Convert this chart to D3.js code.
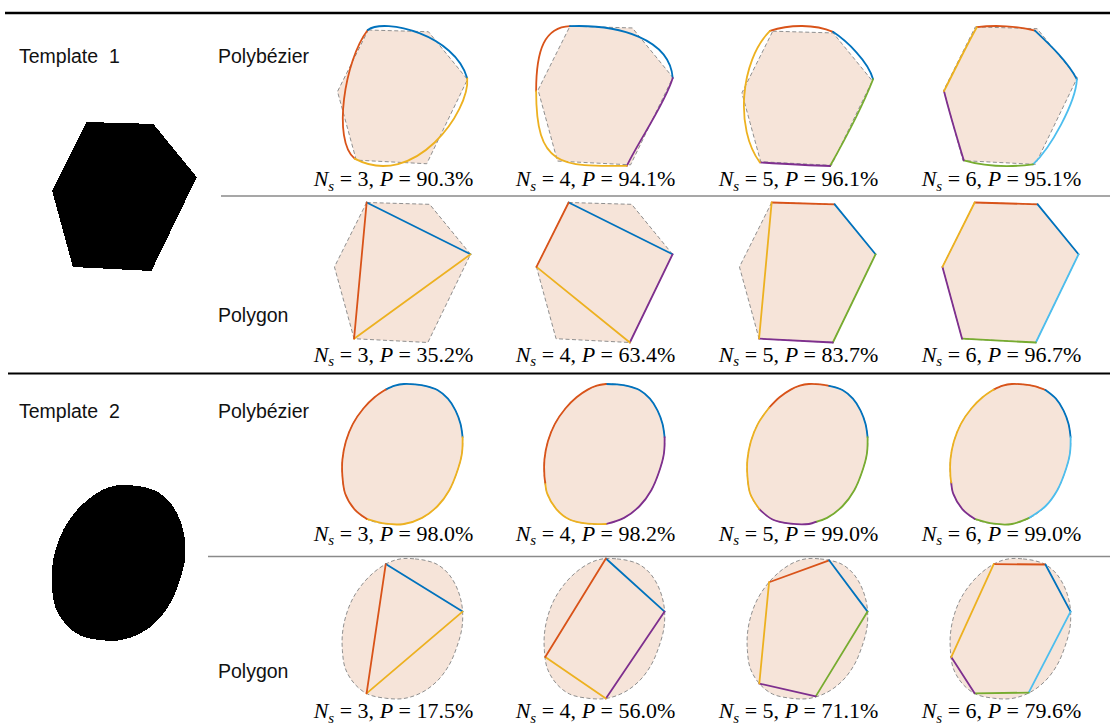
<!DOCTYPE html>
<html>
<head>
<meta charset="utf-8">
<script src="https://cdn.jsdelivr.net/npm/d3@7"></script>
<style>
  html, body { margin: 0; padding: 0; background: #fff; }
  svg { display: block; }
</style>
</head>
<body>
<svg id="fig" width="1110" height="727"></svg>
<script>
// ---------------------------------------------------------------
// Shape outlines (units: shape height = 100, equal aspect)
// ---------------------------------------------------------------
const template1 = [[23,0],[68,1.3],[97.2,37],[66.7,100],[14,97.3],[0,46]];
const template2 = [[44,0],[52,0.3],[60,1.5],[68,4.3],[75.5,10.5],[81,19],[84.5,28.5],[86,38],
  [85.5,50],[82,63],[76.5,76],[68,87.5],[57,95.8],[44,100.2],[31,100],[18,97],[8.5,89.5],
  [2,78.5],[0,66],[0,54],[2.5,41],[7.5,28.5],[15,17.5],[23,9.5],[31,4],[37.5,1.2]];

// Segment counts and reported precision values
const segmentCounts = [3, 4, 5, 6];
const pT1Bezier  = [90.3, 94.1, 96.1, 95.1];
const pT1Polygon = [35.2, 63.4, 83.7, 96.7];
const pT2Bezier  = [98.0, 98.2, 99.0, 99.0];
const pT2Polygon = [17.5, 56.0, 71.1, 79.6];

const segColors = {
  blue: "#0072BD", red: "#D95319", yellow: "#EDB120",
  purple: "#7E2F8E", green: "#77AC30", cyan: "#4DBEEE"
};

// Template 1, polybézier fits: cubic segments [P0, P1, P2, P3]
const t1BezierFits = [
  [ {c:"red",    p:[[22.6,0],[5.3,22.6],[-4,82.7],[12.8,96.2]]},
    {c:"blue",   p:[[22.6,0],[35.3,-9.5],[88,3.8],[97,36.1]]},
    {c:"yellow", p:[[97,36.1],[99.2,60.2],[57.9,120],[12.8,96.2]]} ],
  [ {c:"red",    p:[[23,0],[5,0.7],[-1.4,16.5],[-1.4,46.8]]},
    {c:"blue",   p:[[23,0],[59,-1.4],[95,9.4],[97.1,37.4]]},
    {c:"purple", p:[[97.1,37.4],[91.4,56.1],[73.4,81.3],[64,100.7]]},
    {c:"yellow", p:[[64,100.7],[15.8,101.4],[-1.4,101.4],[-1.4,46.8]]} ],
  [ {c:"red",    p:[[20.9,-0.2],[35.8,-5.2],[54.5,-5.2],[67.9,0.5]]},
    {c:"blue",   p:[[67.9,0.5],[78.4,7.5],[94,22.4],[97.8,35.8]]},
    {c:"green",  p:[[97.8,35.8],[89.6,56.7],[76.9,80.6],[65.7,100.5]]},
    {c:"purple", p:[[65.7,100.5],[48.5,100],[30.6,98.9],[13.4,97.8]]},
    {c:"yellow", p:[[13.4,97.8],[-5.2,73.1],[-1.5,22.4],[20.9,-0.2]]} ],
  [ {c:"red",    p:[[24.1,0.2],[37.2,-1.5],[54,-0.7],[66.4,2.7]]},
    {c:"blue",   p:[[66.4,2.7],[77.4,13.1],[90.5,25.5],[96.9,38.2]]},
    {c:"cyan",   p:[[96.9,38.2],[96,55],[78,88],[65,100]]},
    {c:"green",  p:[[65,100],[48.2,102.2],[29.9,101.5],[14.6,97.1]]},
    {c:"purple", p:[[14.6,97.1],[9.5,80.3],[4.4,63.5],[0.2,46.7]]},
    {c:"yellow", p:[[0.2,46.7],[8,31.4],[16.8,13.1],[24.1,0.2]]} ]
];

// Template 1, polygon fits: vertices and edge colours (edge i joins vertex i to i+1)
const t1PolygonFits = [
  {v:[[23,0],[97.2,37],[14,97.3]], c:["blue","yellow","red"]},
  {v:[[23,0],[97.2,37],[66.7,100],[0,46]], c:["blue","purple","yellow","red"]},
  {v:[[23,0],[68,1.3],[97.2,37],[66.7,100],[14,97.3]], c:["red","blue","green","purple","yellow"]},
  {v:[[23,0],[68,1.3],[97.2,37],[66.7,100],[14,97.3],[0,46]], c:["red","blue","cyan","green","purple","yellow"]}
];

// Template 2, polybézier fits: sampled points along each segment
const t2BezierFits = [
  [ {c:"blue",   p:[[31,4],[37.5,1.2],[44,0],[52,0.3],[60,1.5],[68,4.3],[75.5,10.5],[81,19],[84.5,28.5],[86,38]]},
    {c:"yellow", p:[[86,38],[85.5,50],[82,63],[76.5,76],[68,87.5],[57,95.8],[44,100.2],[31,100],[17.3,96.5]]},
    {c:"red",    p:[[17.3,96.5],[8.5,89.5],[2,78.5],[0,66],[0,54],[2.5,41],[7.5,28.5],[15,17.5],[23,9.5],[31,4]]} ],
  [ {c:"blue",   p:[[44,0],[52,0.3],[60,1.5],[68,4.3],[75.5,10.5],[81,19],[84.5,28.5],[86,38]]},
    {c:"purple", p:[[86,38],[85.5,50],[82,63],[76.5,76],[68,87.5],[57,95.8],[44,100.2]]},
    {c:"yellow", p:[[44,100.2],[31,100],[18,97],[8.5,89.5],[2,78.5],[0.6,70.5]]},
    {c:"red",    p:[[0.6,70.5],[0,66],[0,54],[2.5,41],[7.5,28.5],[15,17.5],[23,9.5],[31,4],[37.5,1.2],[44,0]]} ],
  [ {c:"red",    p:[[15.5,17],[23,9.5],[31,4],[37.5,1.2],[44,0],[52,0.3],[58.5,1.3]]},
    {c:"blue",   p:[[58.5,1.3],[68,4.3],[75.5,10.5],[81,19],[84.5,28.5],[86,38]]},
    {c:"green",  p:[[86,38],[85.5,50],[82,63],[76.5,76],[68,87.5],[57,95.8],[48.9,98.7]]},
    {c:"purple", p:[[48.9,98.7],[44,100.2],[31,100],[18,97],[8.5,89.5]]},
    {c:"yellow", p:[[8.5,89.5],[2,78.5],[0,66],[0,54],[2.5,41],[7.5,28.5],[15.5,17]]} ],
  [ {c:"red",    p:[[31,4],[37.5,1.2],[44,0],[52,0.3],[60,1.5],[68,4.3]]},
    {c:"blue",   p:[[68,4.3],[75.5,10.5],[81,19],[84.5,28.5],[86,38]]},
    {c:"cyan",   p:[[86,38],[85.5,50],[82,63],[76.5,76],[68,87.5],[56,96]]},
    {c:"green",  p:[[56,96],[44,100.2],[31,100],[17.3,96.5]]},
    {c:"purple", p:[[17.3,96.5],[8.5,89.5],[2,78.5],[0.6,70.5]]},
    {c:"yellow", p:[[0.6,70.5],[0,66],[0,54],[2.5,41],[7.5,28.5],[15,17.5],[23,9.5],[31,4]]} ]
];

// Template 2, polygon fits
const t2PolygonFits = [
  {v:[[31,4],[86,38],[17.3,96.5]], c:["blue","yellow","red"]},
  {v:[[44,0],[86,38],[44,100.2],[0.6,70.5]], c:["blue","purple","yellow","red"]},
  {v:[[15.5,17],[58.5,1.3],[86,38],[48.9,98.7],[8.5,89.5]], c:["red","blue","green","purple","yellow"]},
  {v:[[31,4],[68,4.3],[86,38],[56,96],[17.3,96.5],[0.6,70.5]], c:["red","blue","cyan","green","purple","yellow"]}
];

// ---------------------------------------------------------------
// Layout
// ---------------------------------------------------------------
const W = 1110, H = 727;
const colCx = [402.5, 604.5, 807.5, 1010.5];
const panelH = 140;
const fillColor = "#F6E4D9";
const dashColor = "#8f8f8f";
const labelSize = 19.5;

const rows = [
  {label:"Polybézier", labelY:63,  tpl:template1, smooth:false, kind:"bezier",  fits:t1BezierFits,  p:pT1Bezier,  cy:96,    capY:186},
  {label:"Polygon",    labelY:322, tpl:template1, smooth:false, kind:"polygon", fits:t1PolygonFits, p:pT1Polygon, cy:272.5, capY:361.5},
  {label:"Polybézier", labelY:418, tpl:template2, smooth:true,  kind:"points",  fits:t2BezierFits,  p:pT2Bezier,  cy:454,   capY:540.5},
  {label:"Polygon",    labelY:678, tpl:template2, smooth:true,  kind:"polygon", fits:t2PolygonFits, p:pT2Polygon, cy:628.5, capY:718}
];

const svg = d3.select("#fig");
svg.append("rect").attr("width", W).attr("height", H).attr("fill", "#fff");

// table rules
svg.append("line").attr("x1", 5).attr("x2", W).attr("y1", 13).attr("y2", 13)
  .attr("stroke", "#000").attr("stroke-width", 2.5);
svg.append("line").attr("x1", 8).attr("x2", W).attr("y1", 373.5).attr("y2", 373.5)
  .attr("stroke", "#000").attr("stroke-width", 2);
svg.append("line").attr("x1", 221).attr("x2", W).attr("y1", 196).attr("y2", 196)
  .attr("stroke", "#8a8a8a").attr("stroke-width", 1.5);
svg.append("line").attr("x1", 208).attr("x2", W).attr("y1", 556.5).attr("y2", 556.5)
  .attr("stroke", "#8a8a8a").attr("stroke-width", 1.5);

const sansFont = "'Liberation Sans', Arial, sans-serif";
const serifFont = "'Liberation Serif', 'Times New Roman', serif";

// template labels and silhouettes
const templates = [
  {name:"Template  1", y:63,  pts:template1, smooth:false, x0:52, y0:122, k:1.49},
  {name:"Template  2", y:418, pts:template2, smooth:true,  x0:52, y0:485, k:1.55}
];
templates.forEach(t => {
  svg.append("text").attr("x", 19).attr("y", t.y)
    .attr("font-family", sansFont).attr("font-size", labelSize).attr("fill", "#111")
    .style("white-space", "pre").text(t.name);
  const sx = d3.scaleLinear().domain([0, 100]).range([t.x0, t.x0 + 100 * t.k]);
  const sy = d3.scaleLinear().domain([0, 100]).range([t.y0, t.y0 + 100 * t.k]);
  const line = d3.line().x(d => sx(d[0])).y(d => sy(d[1]))
    .curve(t.smooth ? d3.curveCatmullRomClosed.alpha(0.5) : d3.curveLinearClosed);
  svg.append("path").attr("d", line(t.pts)).attr("fill", "#000")
    .attr("shape-rendering", "crispEdges");
});

function cubicSamples(p) {
  const out = [];
  for (let i = 0; i <= 50; i++) {
    const t = i / 50, a = (1 - t) ** 3, b = 3 * (1 - t) ** 2 * t, c = 3 * (1 - t) * t * t, d = t ** 3;
    out.push([a * p[0][0] + b * p[1][0] + c * p[2][0] + d * p[3][0],
              a * p[0][1] + b * p[1][1] + c * p[2][1] + d * p[3][1]]);
  }
  return out;
}

rows.forEach(row => {
  svg.append("text").attr("x", 218).attr("y", row.labelY)
    .attr("font-family", sansFont).attr("font-size", labelSize).attr("fill", "#111")
    .text(row.label);

  row.fits.forEach((fit, ci) => {
    // extent of everything drawn in this panel
    let pts = row.tpl.slice();
    if (row.kind === "bezier") fit.forEach(s => { pts = pts.concat(cubicSamples(s.p)); });
    else if (row.kind === "points") fit.forEach(s => { pts = pts.concat(s.p); });
    else pts = pts.concat(fit.v);
    const [u0, u1] = d3.extent(pts, d => d[0]);
    const [v0, v1] = d3.extent(pts, d => d[1]);
    const k = panelH / (v1 - v0);
    const cx = colCx[ci], cy = row.cy;
    const x = d3.scaleLinear().domain([u0, u1]).range([cx - k * (u1 - u0) / 2, cx + k * (u1 - u0) / 2]);
    const y = d3.scaleLinear().domain([v0, v1]).range([cy - panelH / 2, cy + panelH / 2]);

    const g = svg.append("g");
    const outline = d3.line().x(d => x(d[0])).y(d => y(d[1]))
      .curve(row.smooth ? d3.curveCatmullRomClosed.alpha(0.5) : d3.curveLinearClosed);
    g.append("path").attr("d", outline(row.tpl)).attr("fill", fillColor).attr("stroke", "none");
    g.append("path").attr("d", outline(row.tpl)).attr("fill", "none")
      .attr("stroke", dashColor).attr("stroke-width", 1).attr("stroke-dasharray", "4 2.5");

    const segStyle = sel => sel.attr("fill", "none").attr("stroke-width", 1.8)
      .attr("stroke-linecap", "round").attr("stroke-linejoin", "round");

    if (row.kind === "bezier") {
      fit.forEach(s => {
        const pa = d3.path();
        pa.moveTo(x(s.p[0][0]), y(s.p[0][1]));
        pa.bezierCurveTo(x(s.p[1][0]), y(s.p[1][1]), x(s.p[2][0]), y(s.p[2][1]), x(s.p[3][0]), y(s.p[3][1]));
        g.append("path").attr("d", pa.toString()).attr("stroke", segColors[s.c]).call(segStyle);
      });
    } else if (row.kind === "points") {
      const seg = d3.line().x(d => x(d[0])).y(d => y(d[1])).curve(d3.curveCatmullRom.alpha(0.5));
      fit.forEach(s => {
        g.append("path").attr("d", seg(s.p)).attr("stroke", segColors[s.c]).call(segStyle);
      });
    } else {
      const n = fit.v.length;
      fit.v.forEach((a, i) => {
        const b = fit.v[(i + 1) % n];
        g.append("line").attr("x1", x(a[0])).attr("y1", y(a[1]))
          .attr("x2", x(b[0])).attr("y2", y(b[1]))
          .attr("stroke", segColors[fit.c[i]]).call(segStyle);
      });
    }

    // caption: N_s = n, P = p%
    const t = svg.append("text").attr("x", cx - 9).attr("y", row.capY)
      .attr("text-anchor", "middle").attr("font-family", serifFont)
      .attr("font-size", 22).attr("fill", "#000").style("white-space", "pre");
    t.append("tspan").attr("font-style", "italic").text("N");
    t.append("tspan").attr("font-style", "italic").attr("font-size", 15).attr("dy", 4.5).text("s");
    t.append("tspan").attr("dy", -4.5).text(` = ${segmentCounts[ci]}, `);
    t.append("tspan").attr("font-style", "italic").text("P");
    t.append("tspan").text(` = ${row.p[ci].toFixed(1)}%`);
  });
});
</script>
</body>
</html>
